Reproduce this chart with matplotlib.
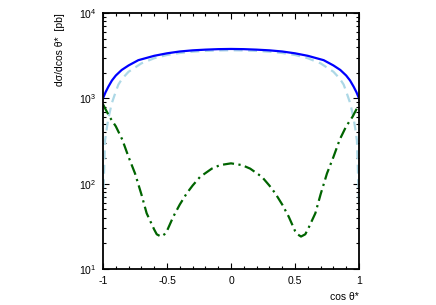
import numpy as np
import matplotlib
matplotlib.use('Agg')
import matplotlib.pyplot as plt
from matplotlib.ticker import MultipleLocator, LogLocator, NullFormatter

plt.rcParams['font.family'] = ['Liberation Sans', 'DejaVu Sans']
plt.rcParams['axes.unicode_minus'] = False

# total (solid blue)
x_total = [-1.0, -0.98, -0.958, -0.93, -0.9, -0.854, -0.8, -0.724, -0.6, -0.5, -0.4, -0.3, -0.2, -0.1, 0.0,
           0.1, 0.2, 0.3, 0.4, 0.5, 0.6, 0.724, 0.8, 0.854, 0.9, 0.93, 0.958, 0.98, 1.0]
y_total = [1000, 1180, 1370, 1620, 1850, 2150, 2430, 2800, 3150, 3370, 3540, 3650, 3720, 3770, 3790,
           3770, 3720, 3650, 3540, 3370, 3150, 2800, 2430, 2150, 1850, 1620, 1370, 1180, 1000]

# light blue dashed
x_dash = [-1.0, -0.992, -0.984, -0.97, -0.958, -0.932, -0.9, -0.88, -0.85, -0.8, -0.7, -0.6, -0.5, -0.4, -0.3, -0.2, -0.1, 0.0,
          0.1, 0.2, 0.3, 0.4, 0.5, 0.6, 0.7, 0.8, 0.85, 0.88, 0.9, 0.932, 0.958, 0.97, 0.984, 0.992, 1.0]
y_dash = [60, 135, 320, 450, 580, 870, 1200, 1450, 1700, 2050, 2570, 2950, 3220, 3400, 3520, 3600, 3640, 3660,
          3640, 3600, 3520, 3400, 3220, 2950, 2570, 2050, 1700, 1450, 1200, 870, 580, 450, 320, 135, 60]

# dark green dash-dot
x_green = [-1.0, -0.95, -0.9, -0.85, -0.8, -0.75, -0.7, -0.659, -0.6, -0.58, -0.547, -0.52, -0.5, -0.451, -0.4,
           -0.346, -0.3, -0.242, -0.15, -0.086, 0.0,
           0.086, 0.15, 0.242, 0.3, 0.346, 0.4, 0.451, 0.5, 0.52, 0.547, 0.58, 0.6, 0.659, 0.7, 0.75, 0.8,
           0.85, 0.9, 0.95, 1.0]
y_green = [850, 610, 470, 330, 205, 132, 75, 45, 29, 25.5, 24, 25.5, 28, 41, 57,
           77, 95, 120, 150, 165, 173,
           165, 150, 120, 95, 77, 57, 41, 28, 25.5, 24, 25.5, 29, 45, 75, 132, 205,
           330, 470, 610, 850]

xticks = [-1, -0.5, 0, 0.5, 1]
xtick_labels = ['-1', '-0.5', '0', '0.5', '1']

fig = plt.figure(figsize=(4.36, 3.05), dpi=100)
ax = fig.add_axes([103 / 436, 36 / 305, 256 / 436, 256 / 305])

ax.plot(x_dash, y_dash, color='#add8e6', lw=1.6, ls=(0, (4, 2.5)))
ax.plot(x_total, y_total, color='#0000ff', lw=1.6)
ax.plot(x_green, y_green, color='#006400', lw=1.6, ls=(0, (5, 2, 1, 2)))

ax.set_yscale('log')
ax.set_xlim(-1, 1)
ax.set_ylim(10, 1e4)
ax.set_xticks(xticks)
ax.set_xticklabels(xtick_labels)
ax.xaxis.set_minor_locator(MultipleLocator(0.1))
ax.yaxis.set_minor_locator(LogLocator(base=10, subs=np.arange(2, 10)))
ax.yaxis.set_minor_formatter(NullFormatter())

ax.tick_params(which='both', direction='in', top=True, right=True, labelsize=7.5, width=0.8)
ax.tick_params(which='major', length=4, pad=5)
ax.tick_params(which='minor', length=2)
for s in ax.spines.values():
    s.set_linewidth(1.3)

ax.set_ylabel('dσ/dcos θ*  [pb]', fontsize=7.5, loc='top')
ax.yaxis.set_label_coords(-0.148, 1.0)
ax.set_xlabel('cos θ*', fontsize=7.5, loc='right')

fig.savefig('out.png', dpi=100)
